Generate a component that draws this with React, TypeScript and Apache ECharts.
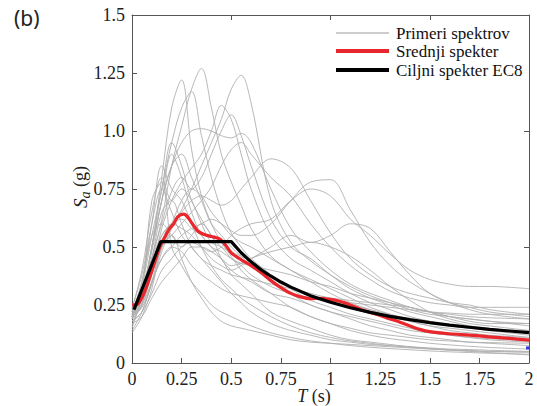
import React, { useEffect, useRef } from "react";
import * as echarts from "echarts";

// Period grid (s) shared by the individual record spectra
const periods = [0, 0.05, 0.1, 0.15, 0.2, 0.25, 0.3, 0.35, 0.4, 0.45, 0.5, 0.55, 0.6, 0.7, 0.8, 0.9, 1.0, 1.1, 1.2, 1.3, 1.4, 1.5, 1.6, 1.7, 1.8, 2.0];

// Individual record spectra Sa (g)
const rec01 = [0.19, 0.28, 0.5, 0.8, 1.1, 1.22, 0.92, 0.72, 0.6, 0.52, 0.46, 0.4, 0.36, 0.3, 0.24, 0.2, 0.17, 0.14, 0.12, 0.105, 0.095, 0.085, 0.078, 0.072, 0.067, 0.06];
const rec02 = [0.22, 0.3, 0.45, 0.62, 0.85, 1.02, 1.18, 1.27, 1.1, 0.9, 0.78, 0.68, 0.58, 0.46, 0.4, 0.35, 0.3, 0.26, 0.23, 0.2, 0.18, 0.16, 0.15, 0.14, 0.13, 0.11];
const rec03 = [0.2, 0.24, 0.34, 0.48, 0.58, 0.66, 0.75, 0.85, 0.95, 1.05, 1.18, 1.24, 1.12, 0.7, 0.52, 0.44, 0.38, 0.33, 0.29, 0.26, 0.23, 0.21, 0.2, 0.19, 0.18, 0.17];
const rec04 = [0.21, 0.28, 0.5, 0.75, 0.95, 1.1, 1.17, 0.98, 0.8, 0.66, 0.56, 0.5, 0.45, 0.38, 0.3, 0.25, 0.22, 0.19, 0.16, 0.14, 0.12, 0.11, 0.1, 0.09, 0.085, 0.075];
const rec05 = [0.2, 0.26, 0.4, 0.58, 0.7, 0.78, 0.84, 0.9, 1.0, 1.11, 1.05, 0.9, 0.75, 0.55, 0.45, 0.4, 0.35, 0.3, 0.26, 0.23, 0.2, 0.18, 0.16, 0.15, 0.14, 0.12];
const rec06 = [0.19, 0.25, 0.45, 0.6, 0.74, 0.8, 0.75, 0.8, 0.9, 1.0, 1.07, 0.98, 0.85, 0.62, 0.5, 0.45, 0.38, 0.32, 0.28, 0.25, 0.22, 0.2, 0.18, 0.16, 0.15, 0.13];
const rec07 = [0.2, 0.3, 0.5, 0.7, 0.85, 0.95, 1.0, 1.01, 1.0, 0.98, 0.97, 0.99, 0.95, 0.75, 0.58, 0.48, 0.4, 0.34, 0.3, 0.27, 0.24, 0.22, 0.2, 0.19, 0.18, 0.16];
const rec08 = [0.18, 0.22, 0.35, 0.5, 0.55, 0.6, 0.65, 0.7, 0.76, 0.85, 0.92, 0.95, 0.9, 0.8, 0.72, 0.6, 0.5, 0.42, 0.36, 0.31, 0.28, 0.26, 0.25, 0.24, 0.24, 0.24];
const rec09 = [0.22, 0.3, 0.45, 0.55, 0.6, 0.65, 0.7, 0.72, 0.7, 0.68, 0.7, 0.75, 0.8, 0.88, 0.84, 0.7, 0.56, 0.45, 0.38, 0.33, 0.3, 0.28, 0.26, 0.25, 0.23, 0.21];
const rec10 = [0.2, 0.25, 0.35, 0.45, 0.5, 0.55, 0.58, 0.6, 0.62, 0.6, 0.57, 0.55, 0.55, 0.6, 0.7, 0.78, 0.79, 0.66, 0.52, 0.42, 0.35, 0.3, 0.26, 0.23, 0.21, 0.19];
const rec11 = [0.18, 0.22, 0.3, 0.4, 0.45, 0.5, 0.52, 0.5, 0.48, 0.5, 0.55, 0.58, 0.6, 0.62, 0.7, 0.75, 0.72, 0.62, 0.55, 0.47, 0.4, 0.36, 0.34, 0.33, 0.33, 0.32];
const rec12 = [0.17, 0.2, 0.28, 0.35, 0.4, 0.45, 0.5, 0.5, 0.48, 0.45, 0.42, 0.43, 0.45, 0.5, 0.55, 0.52, 0.55, 0.6, 0.58, 0.48, 0.38, 0.3, 0.26, 0.24, 0.22, 0.2];
const rec13 = [0.2, 0.28, 0.4, 0.52, 0.6, 0.58, 0.55, 0.5, 0.45, 0.42, 0.4, 0.42, 0.45, 0.48, 0.5, 0.52, 0.5, 0.46, 0.4, 0.33, 0.27, 0.22, 0.19, 0.17, 0.16, 0.14];
const rec14 = [0.2, 0.35, 0.6, 0.85, 0.75, 0.7, 0.6, 0.5, 0.42, 0.36, 0.32, 0.28, 0.25, 0.2, 0.16, 0.13, 0.11, 0.095, 0.085, 0.075, 0.068, 0.062, 0.057, 0.053, 0.05, 0.046];
const rec15 = [0.16, 0.28, 0.5, 0.7, 0.9, 0.8, 0.65, 0.55, 0.5, 0.45, 0.38, 0.34, 0.3, 0.22, 0.18, 0.15, 0.12, 0.1, 0.09, 0.08, 0.07, 0.062, 0.055, 0.05, 0.045, 0.035];
const rec16 = [0.22, 0.35, 0.55, 0.6, 0.55, 0.5, 0.55, 0.6, 0.55, 0.45, 0.4, 0.37, 0.35, 0.3, 0.28, 0.25, 0.22, 0.2, 0.18, 0.16, 0.14, 0.13, 0.12, 0.11, 0.105, 0.095];
const rec17 = [0.13, 0.2, 0.32, 0.5, 0.55, 0.45, 0.35, 0.28, 0.22, 0.18, 0.16, 0.15, 0.14, 0.12, 0.1, 0.09, 0.085, 0.08, 0.075, 0.07, 0.065, 0.06, 0.056, 0.053, 0.05, 0.048];
const rec18 = [0.19, 0.3, 0.45, 0.65, 0.7, 0.6, 0.5, 0.45, 0.4, 0.35, 0.3, 0.26, 0.22, 0.17, 0.14, 0.12, 0.1, 0.09, 0.08, 0.075, 0.07, 0.065, 0.06, 0.058, 0.055, 0.05];
const rec19 = [0.23, 0.4, 0.65, 0.8, 0.7, 0.75, 0.7, 0.6, 0.52, 0.5, 0.45, 0.42, 0.38, 0.33, 0.3, 0.28, 0.26, 0.25, 0.23, 0.21, 0.19, 0.17, 0.16, 0.15, 0.145, 0.14];
const rec20 = [0.2, 0.3, 0.42, 0.55, 0.6, 0.62, 0.58, 0.55, 0.5, 0.48, 0.45, 0.43, 0.42, 0.4, 0.38, 0.35, 0.33, 0.3, 0.28, 0.26, 0.24, 0.22, 0.21, 0.2, 0.195, 0.19];
const rec21 = [0.21, 0.32, 0.48, 0.7, 0.85, 0.9, 0.8, 0.7, 0.6, 0.55, 0.5, 0.46, 0.42, 0.35, 0.3, 0.28, 0.27, 0.26, 0.25, 0.24, 0.23, 0.22, 0.215, 0.21, 0.21, 0.21];
const rec22 = [0.14, 0.22, 0.35, 0.45, 0.5, 0.48, 0.42, 0.38, 0.35, 0.32, 0.3, 0.29, 0.28, 0.26, 0.24, 0.2, 0.17, 0.15, 0.13, 0.12, 0.11, 0.1, 0.095, 0.09, 0.088, 0.085];
const rec23 = [0.24, 0.38, 0.6, 0.75, 0.65, 0.55, 0.5, 0.45, 0.42, 0.4, 0.38, 0.37, 0.36, 0.34, 0.32, 0.3, 0.28, 0.27, 0.26, 0.25, 0.24, 0.22, 0.2, 0.18, 0.17, 0.17];
const rec24 = [0.18, 0.25, 0.38, 0.5, 0.6, 0.7, 0.75, 0.72, 0.65, 0.6, 0.55, 0.52, 0.5, 0.45, 0.4, 0.36, 0.32, 0.28, 0.24, 0.21, 0.18, 0.16, 0.14, 0.13, 0.12, 0.11];
const rec25 = [0.15, 0.3, 0.7, 0.78, 0.5, 0.42, 0.35, 0.3, 0.25, 0.22, 0.2, 0.18, 0.16, 0.13, 0.11, 0.095, 0.085, 0.075, 0.068, 0.062, 0.057, 0.052, 0.048, 0.045, 0.042, 0.038];
const rec26 = [0.21, 0.33, 0.55, 0.75, 0.95, 0.85, 0.7, 0.62, 0.55, 0.5, 0.48, 0.46, 0.44, 0.38, 0.32, 0.27, 0.24, 0.21, 0.19, 0.17, 0.15, 0.13, 0.12, 0.11, 0.1, 0.09];

const recordSpectra = [rec01, rec02, rec03, rec04, rec05, rec06, rec07, rec08, rec09, rec10, rec11, rec12, rec13, rec14, rec15, rec16, rec17, rec18, rec19, rec20, rec21, rec22, rec23, rec24, rec25, rec26];

// Mean spectrum (red): [T, Sa]
const meanSpectrum: [number, number][] = [
  [0, 0.25], [0.03, 0.255], [0.06, 0.3], [0.09, 0.37], [0.12, 0.45], [0.14, 0.5], [0.17, 0.55], [0.19, 0.58],
  [0.21, 0.6], [0.23, 0.63], [0.26, 0.642], [0.28, 0.63], [0.3, 0.605], [0.33, 0.57], [0.36, 0.555], [0.4, 0.545],
  [0.44, 0.535], [0.47, 0.51], [0.5, 0.475], [0.55, 0.445], [0.6, 0.42], [0.65, 0.39], [0.7, 0.355], [0.75, 0.325],
  [0.8, 0.3], [0.85, 0.285], [0.9, 0.277], [0.95, 0.279], [1.0, 0.274], [1.05, 0.265], [1.1, 0.25], [1.15, 0.232],
  [1.2, 0.218], [1.25, 0.205], [1.3, 0.19], [1.35, 0.176], [1.4, 0.16], [1.45, 0.145], [1.5, 0.135], [1.6, 0.126],
  [1.7, 0.12], [1.8, 0.113], [1.9, 0.106], [2.0, 0.099],
];

// Target EC8 spectrum (black): [T, Sa]
const targetSpectrum: [number, number][] = [
  [0.01, 0.23], [0.145, 0.523], [0.5, 0.523], [0.55, 0.475], [0.6, 0.436], [0.65, 0.402], [0.7, 0.374], [0.75, 0.349],
  [0.8, 0.327], [0.9, 0.29], [1.0, 0.262], [1.1, 0.238], [1.2, 0.218], [1.3, 0.201], [1.4, 0.187], [1.5, 0.174],
  [1.6, 0.163], [1.7, 0.154], [1.8, 0.145], [1.9, 0.138], [2.0, 0.131],
];

// Small blue mark at the right edge
const blueMark: [number, number][] = [[1.985, 0.065], [2.0, 0.065]];

const xTickLabels = ["0", "0.25", "0.5", "0.75", "1", "1.25", "1.5", "1.75", "2"];
const yTickLabels = ["0", "0.25", "0.5", "0.75", "1.0", "1.25", "1.5"];
const legendLabels = ["Primeri spektrov", "Srednji spekter", "Ciljni spekter EC8"];

const SERIF = "'Liberation Serif', 'Times New Roman', serif";
const NBSP = "\u00a0";

export default function App() {
  const ref = useRef<HTMLDivElement>(null);

  useEffect(() => {
    if (!ref.current) return;
    const chart = echarts.init(ref.current, null, { renderer: "svg" });

    const axisLineStyle = { color: "#555", width: 1 };

    const graySeries = recordSpectra.map((rec) => ({
      type: "line",
      name: legendLabels[0],
      data: periods.map((t, j) => [t, rec[j]]),
      showSymbol: false,
      smooth: 0.35,
      silent: true,
      z: 1,
      lineStyle: { color: "#b0b0b0", width: 0.9 },
    }));

    chart.setOption({
      animation: false,
      backgroundColor: "#ffffff",
      grid: { left: 132, top: 15, right: 8, bottom: 43, containLabel: false },
      xAxis: [
        {
          type: "value",
          min: 0,
          max: 2,
          interval: 0.25,
          position: "bottom",
          axisLine: { show: true, onZero: false, lineStyle: axisLineStyle },
          axisTick: { show: true, inside: true, length: 5, lineStyle: axisLineStyle },
          axisLabel: {
            margin: 7,
            fontFamily: SERIF,
            fontSize: 18,
            color: "#222",
            formatter: (v: number) => xTickLabels[Math.round(v / 0.25)] ?? "",
          },
          splitLine: { show: false },
        },
        {
          type: "value",
          min: 0,
          max: 2,
          interval: 0.5,
          position: "top",
          axisLine: { show: true, onZero: false, lineStyle: axisLineStyle },
          axisTick: { show: true, inside: true, length: 5, lineStyle: axisLineStyle },
          axisLabel: { show: false },
          splitLine: { show: false },
        },
      ],
      yAxis: [
        {
          type: "value",
          min: 0,
          max: 1.5,
          interval: 0.25,
          position: "left",
          axisLine: { show: true, onZero: false, lineStyle: axisLineStyle },
          axisTick: { show: true, inside: true, length: 5, lineStyle: axisLineStyle },
          axisLabel: {
            margin: 7,
            fontFamily: SERIF,
            fontSize: 18,
            color: "#222",
            formatter: (v: number) => yTickLabels[Math.round(v / 0.25)] ?? "",
          },
          splitLine: { show: false },
        },
        {
          type: "value",
          min: 0,
          max: 1.5,
          interval: 0.5,
          position: "right",
          axisLine: { show: true, onZero: false, lineStyle: axisLineStyle },
          axisTick: { show: true, inside: true, length: 5, lineStyle: axisLineStyle },
          axisLabel: { show: false },
          splitLine: { show: false },
        },
      ],
      series: [
        ...graySeries,
        {
          type: "line",
          name: legendLabels[1],
          data: meanSpectrum,
          showSymbol: false,
          smooth: 0.3,
          silent: true,
          z: 3,
          lineStyle: { color: "#e8262b", width: 3.2 },
        },
        {
          type: "line",
          name: legendLabels[2],
          data: targetSpectrum,
          showSymbol: false,
          smooth: false,
          silent: true,
          z: 4,
          lineStyle: { color: "#000000", width: 3.2 },
        },
        {
          type: "line",
          name: "mark",
          data: blueMark,
          showSymbol: false,
          silent: true,
          z: 5,
          clip: false,
          lineStyle: { color: "#2b3fd6", width: 3 },
        },
      ],
      graphic: [
        {
          type: "text",
          left: 14,
          top: 7,
          style: { text: "(b)", font: "21px 'Noto Sans', sans-serif", fill: "#222" },
        },
        {
          type: "line",
          shape: { x1: 336, y1: 33, x2: 389, y2: 33 },
          style: { stroke: "#9a9a9a", lineWidth: 1 },
        },
        {
          type: "text",
          x: 396,
          y: 33,
          style: { text: legendLabels[0], font: `17px ${SERIF}`, fill: "#111", verticalAlign: "middle" },
        },
        {
          type: "line",
          shape: { x1: 336, y1: 51, x2: 389, y2: 51 },
          style: { stroke: "#e8262b", lineWidth: 4 },
        },
        {
          type: "text",
          x: 396,
          y: 51,
          style: { text: legendLabels[1], font: `17px ${SERIF}`, fill: "#111", verticalAlign: "middle" },
        },
        {
          type: "line",
          shape: { x1: 336, y1: 70, x2: 389, y2: 70 },
          style: { stroke: "#000", lineWidth: 4 },
        },
        {
          type: "text",
          x: 396,
          y: 70,
          style: { text: legendLabels[2], font: `17px ${SERIF}`, fill: "#111", verticalAlign: "middle" },
        },
        {
          type: "text",
          x: 314,
          y: 396,
          style: {
            text: `{i|T}{n|${NBSP}(s)}`,
            fill: "#222",
            align: "center",
            verticalAlign: "middle",
            rich: {
              i: { fontStyle: "italic", fontFamily: SERIF, fontSize: 18, fill: "#222" },
              n: { fontFamily: SERIF, fontSize: 18, fill: "#222" },
            },
          },
        },
        {
          type: "text",
          x: 80,
          y: 187,
          rotation: Math.PI / 2,
          style: {
            text: `{i|S}{s|a}{n|${NBSP}(g)}`,
            fill: "#222",
            align: "center",
            verticalAlign: "middle",
            rich: {
              i: { fontStyle: "italic", fontFamily: SERIF, fontSize: 19, fill: "#222", lineHeight: 24, verticalAlign: "middle" },
              s: { fontStyle: "italic", fontFamily: SERIF, fontSize: 14, fill: "#222", lineHeight: 24, verticalAlign: "bottom", padding: [8, 0, 0, 0] },
              n: { fontFamily: SERIF, fontSize: 18, fill: "#222", lineHeight: 24, verticalAlign: "middle" },
            },
          },
        },
      ],
    });

    return () => chart.dispose();
  }, []);

  return (
    <div
      ref={ref}
      style={{ position: "fixed", left: 0, top: 0, width: 537, height: 406, background: "#fff" }}
    />
  );
}
